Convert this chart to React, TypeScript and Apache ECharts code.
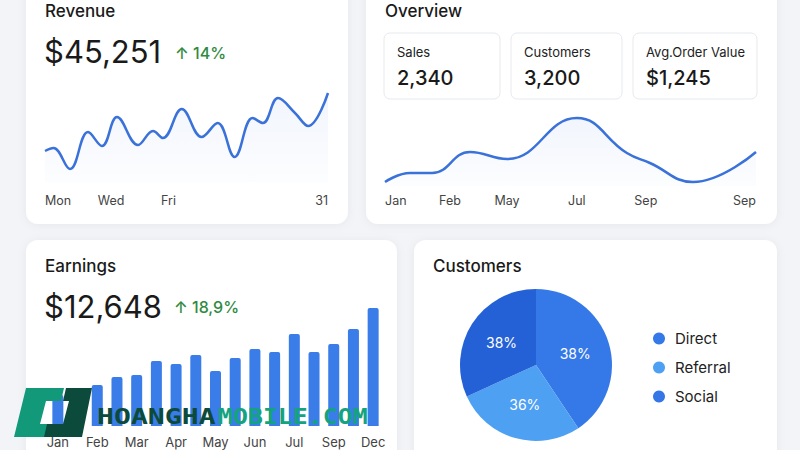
import React, { useEffect, useRef } from "react";
import * as echarts from "echarts";

// Revenue line (day index, value)
const revenueDays = [0, 0.9, 2.65, 4.56, 6.04, 7.63, 9.86, 11.45, 12.5, 14.5, 16.6, 18.3, 20.1, 22.0, 23.1, 24.7, 26.5, 27.9, 30];
const revenueValues = [31, 34, 13, 50, 36, 65, 37, 51, 44, 73, 45, 59, 25, 64, 59, 84, 69, 56, 89];
const revenueTickPos = [0, 7, 13.1, 30];
const revenueTickLabels = ["Mon", "Wed", "Fri", "31"];

// Overview line
const overviewPos = [0, 0.67, 1.27, 2.29, 3.29, 5.17, 6.52, 7.14, 8.3, 10];
const overviewValues = [4, 13, 13, 34, 27, 68, 33, 23, 4, 34];
const overviewTickPos = [0, 1.75, 3.29, 5.17, 7.03, 10];
const overviewTickLabels = ["Jan", "Feb", "May", "Jul", "Sep", "Sep"];

// Earnings bars
const earningsLabels = ["Jan", "Feb", "Mar", "Apr", "May", "Jun", "Jul", "Sep", "Dec"];
const earningsValues = [31, 36, 41, 49, 51, 65, 62, 71, 55, 68, 77, 74, 92, 74, 82, 97, 118];

// Customers pie
const customerNames = ["Direct", "Referral", "Social"];
const customerShares = [40.6, 27.6, 31.8];
const customerLabels = ["38%", "36%", "38%"];

// KPI texts
const kpiNames = ["Sales", "Customers", "Avg.Order Value"];
const kpiValues = ["2,340", "3,200", "$1,245"];

const FONT = "Inter, 'Noto Sans', sans-serif";
const LINE = "#3a72d9";

function lookup(pos: number[], labels: string[]) {
  return (v: number) => {
    for (let i = 0; i < pos.length; i++) if (Math.abs(pos[i] - v) < 1e-6) return labels[i];
    return "";
  };
}

function txt(x: number, y: number, text: string, size: number, weight: any = 400, fill = "#1a1a1a") {
  return {
    type: "text",
    x,
    y,
    z: 5,
    style: { text, fontSize: size, fontWeight: weight, fontFamily: FONT, fill, verticalAlign: "middle" },
  };
}

function card(x: number, y: number, w: number, h: number) {
  return {
    type: "rect",
    z: 0,
    shape: { x, y, width: w, height: h, r: 12 },
    style: { fill: "#ffffff", shadowBlur: 10, shadowColor: "rgba(0,0,0,0.05)", shadowOffsetY: 1 },
  };
}

function box(x: number, y: number, w: number, h: number) {
  return {
    type: "rect",
    z: 1,
    shape: { x, y, width: w, height: h, r: 6 },
    style: { fill: "#ffffff", stroke: "#e7e9ee", lineWidth: 1 },
  };
}

const areaGrad = () =>
  new echarts.graphic.LinearGradient(0, 0, 0, 1, [
    { offset: 0, color: "rgba(58,114,217,0.10)" },
    { offset: 1, color: "rgba(58,114,217,0.02)" },
  ]);

export default function App() {
  const ref = useRef<HTMLDivElement>(null);
  useEffect(() => {
    if (!ref.current) return;
    const chart = echarts.init(ref.current, undefined, { renderer: "svg" });
    const boxX = [384, 511, 633];
    const boxW = [116, 111, 124];
    const earnCats: string[] = [];
    earningsValues.forEach((_, i) => earnCats.push(i % 2 === 0 ? earningsLabels[i / 2] : ""));

    const option: any = {
      animation: false,
      backgroundColor: "#f3f4f7",
      graphic: [
        card(26, -20, 322, 244),
        card(366, -20, 411, 244),
        card(26, 240, 371, 240),
        card(414, 240, 363, 240),
        ...boxX.map((x, i) => box(x, 33, boxW[i], 66)),
        txt(45, 11, "Revenue", 17, 500),
        txt(44, 51, "$45,251", 31, 400),
        txt(175, 53, "↑ 14%", 16, 500, "#2f8a3f"),
        txt(385, 11, "Overview", 17, 500),
        ...kpiNames.map((n, i) => txt(boxX[i] + 13, 52, n, 13, 400, "#222")),
        ...kpiValues.map((v, i) => txt(boxX[i] + 13, 78, v, 20, 500, "#1a1a1a")),
        txt(45, 266, "Earnings", 17, 500),
        txt(44, 306, "$12,648", 31, 400),
        txt(174, 307, "↑ 18,9%", 16, 500, "#2f8a3f"),
        txt(433, 266, "Customers", 17, 500),
        // watermark
        {
          type: "polygon",
          z: 100,
          shape: { points: [[26, 388], [64, 388], [61, 401], [46, 401], [40, 424], [55, 424], [52, 437], [14, 437]] },
          style: { fill: "#12997a" },
        },
        {
          type: "polygon",
          z: 100,
          shape: { points: [[66, 388], [92, 388], [82, 437], [44, 437], [47, 424], [63, 424], [69, 401], [63, 401]] },
          style: { fill: "#0c4a3b" },
        },
        {
          type: "text",
          z: 100,
          x: 97,
          y: 417,
          scaleX: 1.28,
          style: { text: "HOANGHA", fontSize: 22, fontWeight: "bold", fontFamily: "'DejaVu Sans Mono', monospace", fill: "#0c4a3b", verticalAlign: "middle" },
        },
        {
          type: "text",
          z: 100,
          x: 218,
          y: 417,
          scaleX: 1.13,
          style: { text: "MOBILE.COM", fontSize: 22, fontWeight: "bold", fontFamily: "'DejaVu Sans Mono', monospace", fill: "#14a37f", verticalAlign: "middle" },
        },
      ],
      grid: [
        { left: 45, top: 82, width: 283, height: 100 },
        { left: 385, top: 112, width: 371, height: 74 },
        { left: 48, top: 296, width: 335, height: 130 },
      ],
      xAxis: [
        {
          type: "value",
          gridIndex: 0,
          min: 0,
          max: 30,
          axisLine: { show: false },
          axisTick: { show: false },
          splitLine: { show: false },
          axisLabel: {
            customValues: revenueTickPos,
            formatter: lookup(revenueTickPos, revenueTickLabels),
            color: "#444",
            fontSize: 12.5,
            fontFamily: FONT,
            margin: 12,
            alignMinLabel: "left",
            alignMaxLabel: "right",
          },
        },
        {
          type: "value",
          gridIndex: 1,
          min: 0,
          max: 10,
          axisLine: { show: false },
          axisTick: { show: false },
          splitLine: { show: false },
          axisLabel: {
            customValues: overviewTickPos,
            formatter: lookup(overviewTickPos, overviewTickLabels),
            color: "#444",
            fontSize: 12.5,
            fontFamily: FONT,
            margin: 8,
            alignMinLabel: "left",
            alignMaxLabel: "right",
          },
        },
        {
          type: "category",
          gridIndex: 2,
          data: earnCats,
          axisLine: { show: false },
          axisTick: { show: false },
          axisLabel: { interval: 0, color: "#444", fontSize: 13, fontFamily: FONT, margin: 9 },
        },
      ],
      yAxis: [
        { type: "value", gridIndex: 0, min: 0, max: 100, show: false },
        { type: "value", gridIndex: 1, min: 0, max: 74, show: false },
        { type: "value", gridIndex: 2, min: 0, max: 130, show: false },
      ],
      legend: {
        orient: "vertical",
        left: 648,
        top: 326,
        icon: "circle",
        itemWidth: 12,
        itemHeight: 12,
        itemGap: 14,
        textStyle: { fontSize: 15, color: "#222", fontFamily: FONT, padding: [0, 0, 0, 5] },
        data: [
          { name: "Direct" },
          { name: "Referral" },
          { name: "Social", itemStyle: { color: "#3576e6" } },
        ],
      },
      series: [
        {
          type: "line",
          xAxisIndex: 0,
          yAxisIndex: 0,
          smooth: 0.4,
          symbol: "none",
          lineStyle: { color: LINE, width: 2.5 },
          areaStyle: { color: areaGrad() },
          data: revenueDays.map((d, i) => [d, revenueValues[i]]),
        },
        {
          type: "line",
          xAxisIndex: 1,
          yAxisIndex: 1,
          smooth: 0.45,
          symbol: "none",
          lineStyle: { color: LINE, width: 2.5 },
          areaStyle: { color: areaGrad() },
          data: overviewPos.map((d, i) => [d, overviewValues[i]]),
        },
        {
          type: "bar",
          xAxisIndex: 2,
          yAxisIndex: 2,
          barWidth: 11,
          itemStyle: { color: "#3b7de8", borderRadius: [2, 2, 0, 0] },
          data: earningsValues,
        },
        {
          type: "pie",
          center: [536, 365],
          radius: 76,
          startAngle: 90,
          clockwise: true,
          label: {
            position: "inside",
            color: "#fff",
            fontSize: 14,
            fontFamily: FONT,
            formatter: (p: any) => customerLabels[p.dataIndex],
          },
          labelLine: { show: false },
          data: customerNames.map((n, i) => ({
            name: n,
            value: customerShares[i],
            itemStyle: { color: ["#3579e8", "#4ea0f3", "#2461d6"][i] },
          })),
        },
      ],
    };
    chart.setOption(option);
    return () => chart.dispose();
  }, []);
  return <div ref={ref} style={{ position: "fixed", left: 0, top: 0, width: 800, height: 450 }} />;
}
